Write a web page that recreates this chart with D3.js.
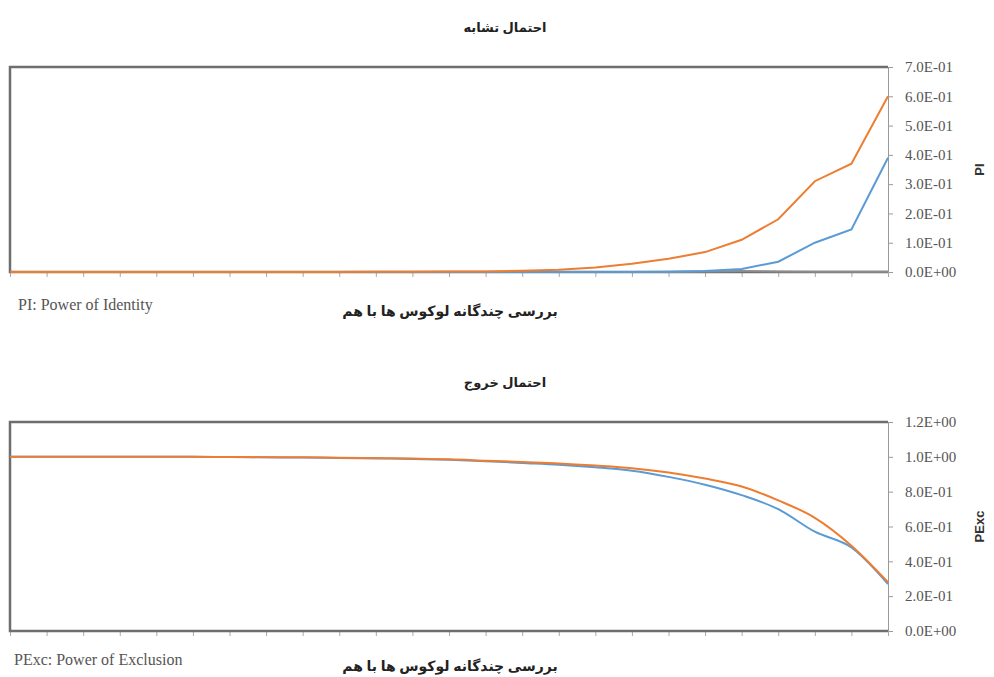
<!DOCTYPE html>
<html>
<head>
<meta charset="utf-8">
<script src="https://cdn.jsdelivr.net/npm/d3@7"></script>
<style>
  body { margin: 0; background: #fff; }
  svg { display: block; }
</style>
</head>
<body>
<div class="chart"></div>
<script>
// 25 loci combinations along the x axis
const loci = d3.range(1, 26)

// PI panel
const piOrange = [0, 0, 0, 0, 0, 0, 0, 0, 0, 0, 0.0005, 0.001, 0.0015, 0.002, 0.004, 0.008, 0.015, 0.028, 0.045, 0.068, 0.11, 0.18, 0.31, 0.37, 0.60]
const piBlue = [0, 0, 0, 0, 0, 0, 0, 0, 0, 0, 0, 0, 0, 0, 0, 0, 0, 0, 0.001, 0.003, 0.01, 0.035, 0.10, 0.145, 0.39]
const piGray = [0, 0, 0, 0, 0, 0, 0, 0, 0, 0, 0, 0, 0, 0, 0, 0, 0, 0, 0, 0.002, 0.003, 0.002, 0.001, 0.001, 0.001]
const piTicks = [0, 0.1, 0.2, 0.3, 0.4, 0.5, 0.6, 0.7]

// PExc panel
const pexcOrange = [1.0, 1.0, 1.0, 1.0, 1.0, 1.0, 0.999, 0.998, 0.997, 0.995, 0.993, 0.99, 0.986, 0.978, 0.97, 0.962, 0.95, 0.935, 0.91, 0.875, 0.83, 0.75, 0.65, 0.49, 0.28]
const pexcBlue = [1.0, 1.0, 1.0, 1.0, 1.0, 1.0, 0.999, 0.997, 0.996, 0.994, 0.991, 0.988, 0.983, 0.975, 0.965, 0.955, 0.94, 0.92, 0.885, 0.84, 0.78, 0.70, 0.57, 0.48, 0.27]
const pexcTicks = [0, 0.2, 0.4, 0.6, 0.8, 1.0, 1.2]

const ORANGE = '#ed7d31'
const BLUE = '#5b9bd5'
const GRAY = '#8c8c8c'
const SERIF = '"Liberation Serif", "DejaVu Serif", serif'
const ARABIC = '"Noto Sans", "DejaVu Sans", sans-serif'

// excel style scientific labels: 7.0E-01
const sci = v => {
  if (v === 0) return '0.0E+00'
  const e = Math.floor(Math.log10(v) + 1e-9)
  const m = v / Math.pow(10, e)
  const sign = e < 0 ? '-' : '+'
  return `${m.toFixed(1)}E${sign}${String(Math.abs(e)).padStart(2, '0')}`
}

const svg = d3.select('.chart').append('svg')
  .attr('width', 994)
  .attr('height', 677)

const x = d3.scalePoint()
  .domain(loci)
  .range([10, 888])

const panel = (opts) => {
  const { top, bottom, max, ticks, series, curve, title, titleY, yLabel, xTitleY, note, noteX, noteY } = opts
  const y = d3.scaleLinear().domain([0, max]).range([bottom, top])
  const g = svg.append('g')

  // title
  g.append('text')
    .attr('x', 505).attr('y', titleY)
    .attr('text-anchor', 'middle')
    .attr('direction', 'rtl')
    .attr('font-family', ARABIC)
    .attr('font-weight', 'bold')
    .attr('font-size', 13)
    .attr('fill', '#222')
    .text(title)

  // right value axis
  g.append('g')
    .attr('transform', 'translate(888,0)')
    .call(d3.axisRight(y).tickValues(ticks).tickFormat(sci).tickSize(5).tickPadding(12))
    .call(a => a.select('.domain').attr('stroke', '#9a9a9a'))
    .call(a => a.selectAll('.tick line').attr('stroke', '#9a9a9a'))
    .call(a => a.selectAll('.tick text')
      .attr('font-family', SERIF).attr('font-size', 15).attr('fill', '#555'))

  // category ticks under the axis
  g.append('g')
    .attr('transform', `translate(0,${bottom})`)
    .call(d3.axisBottom(x).tickSize(5).tickFormat(''))
    .call(a => a.select('.domain').remove())
    .call(a => a.selectAll('.tick line').attr('stroke', '#aaa'))

  // plot frame
  g.append('path')
    .attr('d', `M888,${top}H10V${bottom}H888`)
    .attr('fill', 'none')
    .attr('stroke', '#6e6e6e')
    .attr('stroke-width', 2.5)

  const line = d3.line()
    .x((d, i) => x(loci[i]))
    .y(d => y(d))
    .curve(curve)

  series.forEach(s => {
    g.append('path')
      .datum(s.values)
      .attr('fill', 'none')
      .attr('stroke', s.color)
      .attr('stroke-width', 2)
      .attr('d', line)
  })

  // y axis title
  g.append('text')
    .attr('transform', `translate(984,${(top + bottom) / 2}) rotate(-90)`)
    .attr('text-anchor', 'middle')
    .attr('font-family', '"Liberation Sans", Arial, sans-serif')
    .attr('font-weight', 'bold')
    .attr('font-size', 13)
    .attr('fill', '#333')
    .text(yLabel)

  // x axis title
  g.append('text')
    .attr('x', 450).attr('y', xTitleY)
    .attr('text-anchor', 'middle')
    .attr('direction', 'rtl')
    .attr('font-family', ARABIC)
    .attr('font-weight', 'bold')
    .attr('font-size', 14)
    .attr('fill', '#222')
    .text('بررسی چندگانه لوکوس ها با هم')

  // footnote
  g.append('text')
    .attr('x', noteX).attr('y', noteY)
    .attr('font-family', SERIF)
    .attr('font-size', 16)
    .attr('fill', '#555')
    .text(note)
}

panel({
  top: 67, bottom: 272, max: 0.7, ticks: piTicks,
  series: [
    { values: piGray, color: GRAY },
    { values: piBlue, color: BLUE },
    { values: piOrange, color: ORANGE }
  ],
  curve: d3.curveLinear,
  title: 'احتمال تشابه', titleY: 32,
  yLabel: 'PI', xTitleY: 316,
  note: 'PI: Power of Identity', noteX: 18, noteY: 310
})

panel({
  top: 422, bottom: 631, max: 1.2, ticks: pexcTicks,
  series: [
    { values: pexcBlue, color: BLUE },
    { values: pexcOrange, color: ORANGE }
  ],
  curve: d3.curveMonotoneX,
  title: 'احتمال خروج', titleY: 387,
  yLabel: 'PExc', xTitleY: 671,
  note: 'PExc: Power of Exclusion', noteX: 14, noteY: 665
})
</script>
</body>
</html>
